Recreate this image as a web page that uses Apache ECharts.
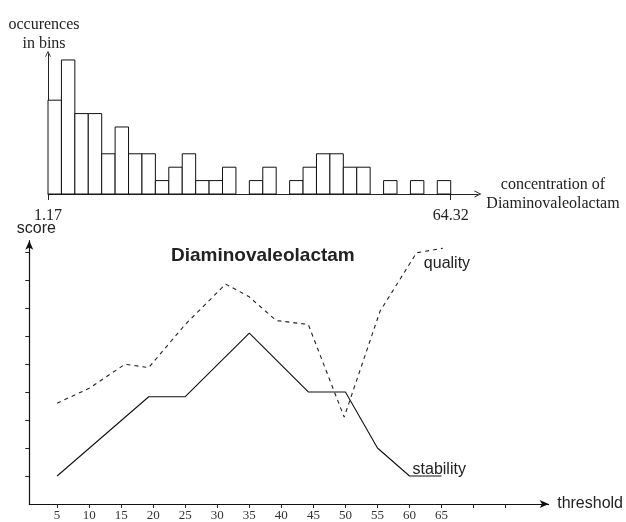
<!DOCTYPE html>
<html>
<head>
<meta charset="utf-8">
<script src="https://cdn.jsdelivr.net/npm/echarts@6/dist/echarts.min.js"></script>
<style>
  html, body { margin: 0; padding: 0; background: #fff; }
  #main { width: 626px; height: 522px; }
</style>
</head>
<body>
<div id="main"></div>
<script>
// histogram: occurrences per bin of concentration
const concRange = [1.17, 64.32];
const binCounts = [7, 10, 6, 6, 3, 5, 3, 3, 1, 2, 3, 1, 1, 2, 0, 1, 2, 0, 1, 2, 3, 3, 2, 2, 0, 1, 0, 1, 0, 1];

// score vs threshold
const stabilityThreshold = [5, 19.3, 25, 35, 44.2, 50, 55, 60, 65];
const stabilityScore = [1, 3.83, 3.83, 6.1, 4, 4, 2, 1, 1];
const qualityThreshold = [5, 10, 15.6, 19.3, 25, 31.3, 34.9, 39.2, 44.2, 49.8, 55.4, 61.1, 65.2];
const qualityScore = [3.6, 4.13, 4.99, 4.87, 6.41, 7.85, 7.41, 6.55, 6.41, 3.1, 6.88, 8.97, 9.13];
const thresholdLabels = [5, 10, 15, 20, 25, 30, 35, 40, 45, 50, 55, 60, 65];
const thresholdTicks = [5, 10, 15, 20, 25, 30, 35, 40, 45, 50, 55, 60, 65, 70, 75];
const scoreTicks = [1, 2, 3, 4, 5, 6, 7, 8, 9];

const serif = "'Liberation Serif', 'Times New Roman', serif";
const sans = "'Liberation Sans', Arial, sans-serif";

const binW = (concRange[1] - concRange[0]) / binCounts.length;
const histData = binCounts.map((c, i) => [concRange[0] + i * binW, c, concRange[0] + (i + 1) * binW]);

const openArrow = 'path://M0,10 L5,0 L10,10 L8.6,10 L5,2.8 L1.4,10 Z';

let chart = echarts.init(document.getElementById('main'), null, { renderer: 'canvas' });

let option = {
  animation: false,
  backgroundColor: '#fff',
  title: {
    text: 'Diaminovaleolactam',
    left: 171,
    top: 246,
    padding: 0,
    textStyle: { fontFamily: sans, fontSize: 19, fontWeight: 'bold', color: '#222' },
  },
  grid: [
    { left: 48, top: 53.8, width: 430, height: 140.2 },
    { left: 29.3, top: 240.7, width: 524.2, height: 265 },
  ],
  xAxis: [
    {
      gridIndex: 0,
      type: 'value',
      min: concRange[0],
      max: 68.6,
      splitLine: { show: false },
      axisLine: {
        lineStyle: { color: '#222', width: 1 },
        symbol: ['none', openArrow],
        symbolSize: [7, 12],
      },
      axisTick: { show: true, length: 6, customValues: concRange, lineStyle: { color: '#222' } },
      axisLabel: {
        customValues: concRange,
        margin: 14,
        fontFamily: serif,
        fontSize: 16,
        color: '#222',
        formatter: (v) => String(v),
      },
      name: 'concentration of\nDiaminovaleolactam',
      nameLocation: 'end',
      nameGap: 75,
      nameTextStyle: { fontFamily: serif, fontSize: 16, color: '#222', align: 'center', lineHeight: 19 },
    },
    {
      gridIndex: 1,
      type: 'value',
      min: 0.66,
      max: 81.72,
      splitLine: { show: false },
      axisLine: {
        lineStyle: { color: '#111', width: 1.2 },
        symbol: ['none', 'arrow'],
        symbolSize: [6, 9],
      },
      axisTick: { show: true, length: 4, customValues: thresholdTicks, lineStyle: { color: '#222' } },
      axisLabel: {
        customValues: thresholdLabels,
        margin: 5,
        fontFamily: serif,
        fontSize: 13,
        color: '#333',
      },
      name: 'threshold',
      nameLocation: 'end',
      nameGap: 8.5,
      nameTextStyle: { fontFamily: sans, fontSize: 16, color: '#222' },
    },
  ],
  yAxis: [
    {
      gridIndex: 0,
      type: 'value',
      min: 0,
      max: 10.46,
      splitLine: { show: false },
      axisLine: {
        show: true,
        lineStyle: { color: '#222', width: 1 },
        symbol: ['none', openArrow],
        symbolSize: [6, 11],
      },
      axisTick: { show: false },
      axisLabel: { show: false },
      name: 'occurences\nin bins',
      nameLocation: 'end',
      nameGap: 1,
      nameTextStyle: { fontFamily: serif, fontSize: 16, color: '#222', lineHeight: 19, padding: [0, 8, 0, 0] },
    },
    {
      gridIndex: 1,
      type: 'value',
      min: 0,
      max: 9.4,
      splitLine: { show: false },
      axisLine: {
        show: true,
        lineStyle: { color: '#111', width: 1.2 },
        symbol: ['none', 'arrow'],
        symbolSize: [6, 9],
      },
      axisTick: { show: true, length: 4, customValues: scoreTicks, lineStyle: { color: '#222' } },
      axisLabel: { show: false },
      name: 'score',
      nameLocation: 'end',
      nameGap: 4,
      nameTextStyle: { fontFamily: sans, fontSize: 16, color: '#222', padding: [0, 0, 0, 14] },
    },
  ],
  series: [
    {
      type: 'custom',
      xAxisIndex: 0,
      yAxisIndex: 0,
      encode: { x: [0, 2], y: 1 },
      data: histData,
      renderItem: function (params, api) {
        const count = api.value(1);
        if (!count) return null;
        const p0 = api.coord([api.value(0), count]);
        const p1 = api.coord([api.value(2), 0]);
        return {
          type: 'rect',
          shape: { x: p0[0], y: p0[1], width: p1[0] - p0[0], height: p1[1] - p0[1] },
          style: { fill: '#fff', stroke: '#111', lineWidth: 1 },
        };
      },
    },
    {
      name: 'stability',
      type: 'line',
      xAxisIndex: 1,
      yAxisIndex: 1,
      showSymbol: false,
      data: stabilityThreshold.map((t, i) => [t, stabilityScore[i]]),
      lineStyle: { color: '#111', width: 1.1 },
      endLabel: {
        show: true,
        formatter: 'stability',
        offset: [-37, -6],
        fontFamily: sans,
        fontSize: 16,
        color: '#222',
      },
    },
    {
      name: 'quality',
      type: 'line',
      xAxisIndex: 1,
      yAxisIndex: 1,
      showSymbol: false,
      data: qualityThreshold.map((t, i) => [t, qualityScore[i]]),
      lineStyle: { color: '#222', width: 1.1, type: [4, 4] },
      endLabel: {
        show: true,
        formatter: 'quality',
        offset: [-27, 15],
        fontFamily: sans,
        fontSize: 16,
        color: '#222',
      },
    },
  ],
};

chart.setOption(option);
window.addEventListener('resize', chart.resize);
</script>
</body>
</html>
